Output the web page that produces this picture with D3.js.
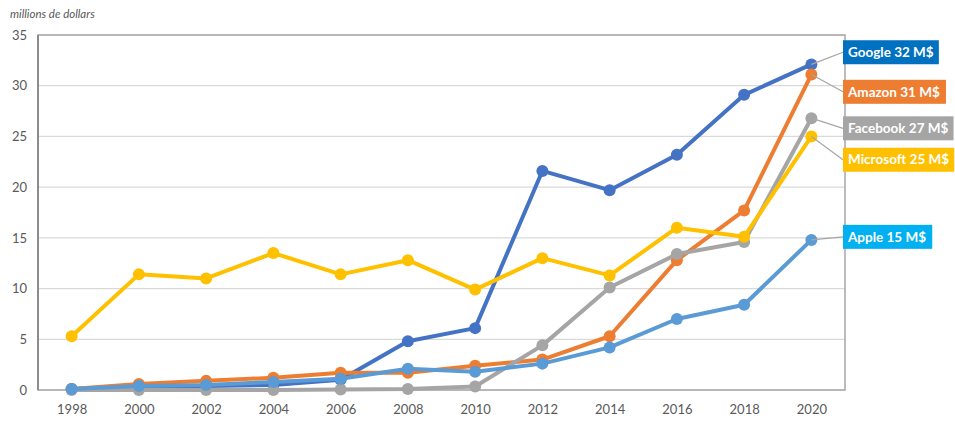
<!DOCTYPE html>
<html>
<head>
<meta charset="utf-8">
<script src="https://cdn.jsdelivr.net/npm/d3@7"></script>
<style>
  body { margin: 0; background: #fff; }
  text { font-family: Lato, "Open Sans", sans-serif; }
</style>
</head>
<body>
<div id="chart"></div>
<script>
const years = ['1998','2000','2002','2004','2006','2008','2010','2012','2014','2016','2018','2020'];
const yTicks = [0, 5, 10, 15, 20, 25, 30, 35];

const google    = [0.1, 0.3, 0.4, 0.5, 1.0, 4.8, 6.1, 21.6, 19.7, 23.2, 29.1, 32.1];
const amazon    = [0.1, 0.6, 0.9, 1.2, 1.7, 1.7, 2.4, 3.0, 5.3, 12.8, 17.7, 31.1];
const facebook  = [0.0, 0.0, 0.0, 0.0, 0.05, 0.1, 0.35, 4.4, 10.1, 13.4, 14.6, 26.8];
const microsoft = [5.3, 11.4, 11.0, 13.5, 11.4, 12.8, 9.9, 13.0, 11.3, 16.0, 15.1, 25.0];
const apple     = [0.1, 0.4, 0.5, 0.8, 1.1, 2.1, 1.8, 2.6, 4.2, 7.0, 8.4, 14.8];

const seriesNames  = ['Google', 'Amazon', 'Facebook', 'Microsoft', 'Apple'];
const seriesLabels = ['Google 32 M$', 'Amazon 31 M$', 'Facebook 27 M$', 'Microsoft 25 M$', 'Apple 15 M$'];
const seriesValues = [google, amazon, facebook, microsoft, apple];
const lineColors   = ['#4472C4', '#ED7D31', '#A5A5A5', '#FFC000', '#5B9BD5'];
const boxColors    = ['#0070C0', '#ED7D31', '#A5A5A5', '#FFC000', '#00B0F0'];
// label box centre (in value units) for the callouts
const labelValues  = [33.3, 29.4, 25.8, 22.7, 15.1];

const W = 955, H = 428;
const m = { left: 38, right: 110, top: 35, bottom: 38 };

const svg = d3.select('#chart').append('svg')
  .attr('width', W)
  .attr('height', H);

const x = d3.scalePoint().domain(years).range([m.left, W - m.right]).padding(0.5);
const y = d3.scaleLinear().domain([0, 35]).range([H - m.bottom, m.top]);

// gridlines
svg.append('g')
  .selectAll('line')
  .data(yTicks)
  .join('line')
  .attr('x1', m.left).attr('x2', W - m.right)
  .attr('y1', d => y(d)).attr('y2', d => y(d))
  .attr('stroke', '#d9d9d9')
  .attr('stroke-width', 1.2);

// frame
svg.append('rect')
  .attr('x', m.left).attr('y', m.top)
  .attr('width', W - m.right - m.left)
  .attr('height', H - m.bottom - m.top)
  .attr('fill', 'none')
  .attr('stroke', '#a6a6a6')
  .attr('stroke-width', 1.5);
svg.append('line')
  .attr('x1', m.left).attr('x2', m.left)
  .attr('y1', m.top).attr('y2', H - m.bottom)
  .attr('stroke', '#8c8c8c')
  .attr('stroke-width', 2);

// axes
const yAxis = svg.append('g')
  .attr('transform', `translate(${m.left - 11},0)`)
  .call(d3.axisLeft(y).tickValues(yTicks).tickSize(0).tickPadding(0));
yAxis.select('.domain').remove();
yAxis.selectAll('text').attr('fill', '#595959').attr('font-size', 13).attr('font-family', 'Lato, sans-serif');

const xAxis = svg.append('g')
  .attr('transform', `translate(0,${H - m.bottom + 9})`)
  .call(d3.axisBottom(x).tickSize(0).tickPadding(6));
xAxis.select('.domain').remove();
xAxis.selectAll('text').attr('fill', '#595959').attr('font-size', 13).attr('font-family', 'Lato, sans-serif');

svg.append('text')
  .attr('x', 10).attr('y', 18)
  .attr('font-size', 11.5)
  .attr('font-style', 'italic')
  .attr('fill', '#595959')
  .text('millions de dollars');

// series
const line = d3.line().x((d, i) => x(years[i])).y(d => y(d));

seriesValues.forEach((vals, s) => {
  const g = svg.append('g');
  g.append('path')
    .datum(vals)
    .attr('d', line)
    .attr('fill', 'none')
    .attr('stroke', lineColors[s])
    .attr('stroke-width', 4)
    .attr('stroke-linejoin', 'round');
  g.selectAll('circle')
    .data(vals)
    .join('circle')
    .attr('cx', (d, i) => x(years[i]))
    .attr('cy', d => y(d))
    .attr('r', 6)
    .attr('fill', lineColors[s]);
});

// callout labels
const lastX = x(years[years.length - 1]);
const boxX = W - m.right - 2;
seriesValues.forEach((vals, s) => {
  const v = vals[vals.length - 1];
  const ly = y(labelValues[s]);
  svg.append('line')
    .attr('x1', lastX).attr('y1', y(v))
    .attr('x2', boxX).attr('y2', ly)
    .attr('stroke', '#a6a6a6')
    .attr('stroke-width', 1.2);
  const t = svg.append('text')
    .attr('x', boxX + 5).attr('y', ly)
    .attr('dy', '0.35em')
    .attr('font-size', 13.5)
    .attr('font-weight', 'bold')
    .attr('fill', '#fff')
    .text(seriesLabels[s]);
  const bb = t.node().getBBox();
  svg.insert('rect', () => t.node())
    .attr('x', boxX).attr('y', ly - 12)
    .attr('width', bb.width + 10).attr('height', 24)
    .attr('fill', boxColors[s]);
});
</script>
</body>
</html>
